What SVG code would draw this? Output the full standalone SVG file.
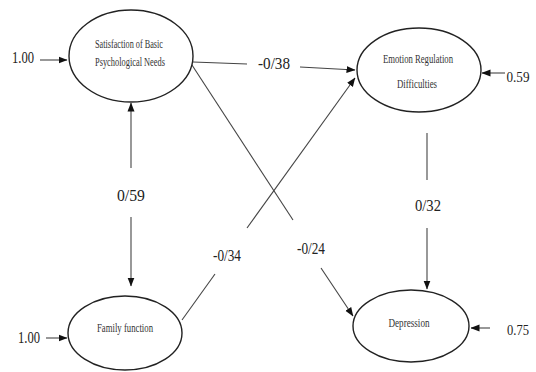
<svg xmlns="http://www.w3.org/2000/svg" width="536" height="372" viewBox="0 0 536 372">
<style>
.node ellipse{fill:#fff;stroke:#222;stroke-width:1.4}
.nt{font-family:"Liberation Serif",serif;font-size:13px;fill:#333;text-anchor:middle}
.lb{font-family:"Liberation Serif",serif;font-size:17px;fill:#222;text-anchor:middle}
.lr{font-size:15px}
.ln{stroke:#444;stroke-width:1.1;fill:none}
.ar{marker-end:url(#ah)}
</style>
<defs>
<marker id="ah" markerWidth="9" markerHeight="8" refX="8.5" refY="4" orient="auto" markerUnits="userSpaceOnUse">
<path d="M0,0.5 L9,4 L0,7.5 Z" fill="#111"/>
</marker>
</defs>
<rect width="536" height="372" fill="#fff"/>
<g id="connectors">
<line class="ln ar" x1="40" y1="60" x2="67" y2="60"/>
<line class="ln ar" x1="505" y1="73" x2="482" y2="73"/>
<line class="ln ar" x1="46" y1="338" x2="67" y2="338"/>
<line class="ln ar" x1="490" y1="328" x2="471" y2="328"/>
<line class="ln" x1="193" y1="62" x2="247" y2="64"/>
<line class="ln ar" x1="300" y1="67" x2="355" y2="70"/>
<line class="ln ar" x1="131" y1="168" x2="131" y2="103"/>
<line class="ln ar" x1="131" y1="217" x2="131" y2="286"/>
<line class="ln" x1="427" y1="133" x2="427" y2="180"/>
<line class="ln ar" x1="427" y1="228" x2="427" y2="289"/>
<line class="ln" x1="190" y1="62" x2="293" y2="220"/>
<line class="ln ar" x1="321" y1="268" x2="353" y2="316"/>
<line class="ln" x1="182" y1="320" x2="215" y2="274"/>
<line class="ln ar" x1="247" y1="228" x2="355" y2="78"/>
<text class="lb" x="23" y="63" textLength="22" lengthAdjust="spacingAndGlyphs">1.00</text>
<text class="lb" x="274" y="69" textLength="32" lengthAdjust="spacingAndGlyphs">-0/38</text>
<text class="lb lr" x="518" y="82" textLength="23" lengthAdjust="spacingAndGlyphs">0.59</text>
<text class="lb" x="131" y="201" textLength="28" lengthAdjust="spacingAndGlyphs">0/59</text>
<text class="lb" x="428" y="211" textLength="26" lengthAdjust="spacingAndGlyphs">0/32</text>
<text class="lb" x="227" y="261" textLength="28" lengthAdjust="spacingAndGlyphs">-0/34</text>
<text class="lb" x="311" y="254" textLength="28" lengthAdjust="spacingAndGlyphs">-0/24</text>
<text class="lb" x="29" y="343" textLength="22" lengthAdjust="spacingAndGlyphs">1.00</text>
<text class="lb lr" x="518" y="335" textLength="22" lengthAdjust="spacingAndGlyphs">0.75</text>
</g>
<g id="node-satisfaction" class="node">
<ellipse cx="131" cy="56" rx="62" ry="46"/>
<text class="nt" x="129" y="48" textLength="68" lengthAdjust="spacingAndGlyphs">Satisfaction of Basic</text>
<text class="nt" x="130" y="66" textLength="70" lengthAdjust="spacingAndGlyphs">Psychological Needs</text>
</g>
<g id="node-emotion" class="node">
<ellipse cx="419" cy="70" rx="62" ry="42"/>
<text class="nt" x="418" y="63" textLength="70" lengthAdjust="spacingAndGlyphs">Emotion Regulation</text>
<text class="nt" x="417" y="88" textLength="40" lengthAdjust="spacingAndGlyphs">Difficulties</text>
</g>
<g id="node-family" class="node">
<ellipse cx="125" cy="333" rx="57" ry="37"/>
<text class="nt" x="125" y="332" textLength="56" lengthAdjust="spacingAndGlyphs">Family function</text>
</g>
<g id="node-depression" class="node">
<ellipse cx="411" cy="326" rx="58" ry="36"/>
<text class="nt" x="409" y="327" textLength="41" lengthAdjust="spacingAndGlyphs">Depression</text>
</g>
</svg>
